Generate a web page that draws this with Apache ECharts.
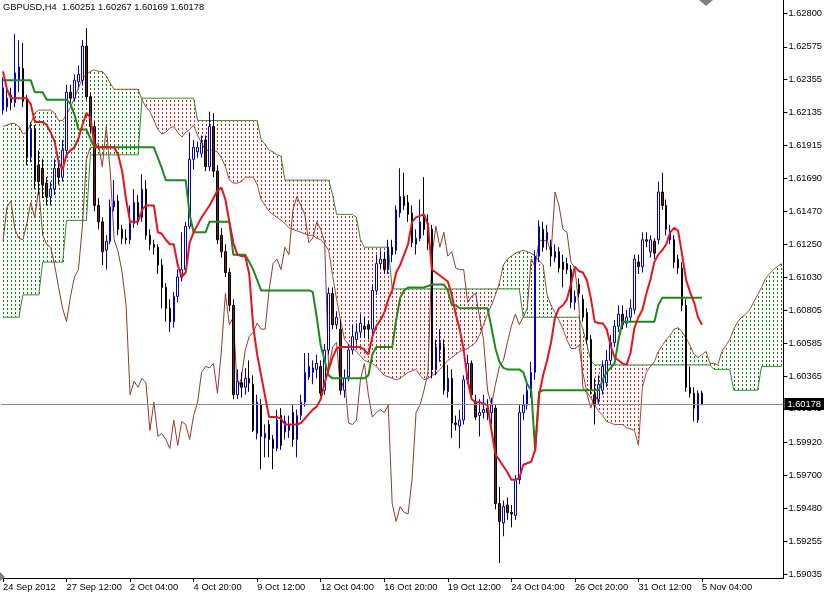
<!DOCTYPE html>
<html><head><meta charset="utf-8">
<script src="https://cdn.jsdelivr.net/npm/echarts@6/dist/echarts.min.js"></script>
<style>html,body{margin:0;padding:0;background:#fff}#c{width:825px;height:595px}</style>
</head><body><div id="c"></div>
<script>
const symbolName = 'GBPUSD,H4';
const tickLabels = ['24 Sep 2012','27 Sep 12:00','2 Oct 04:00','4 Oct 20:00','9 Oct 12:00','12 Oct 04:00','16 Oct 20:00','19 Oct 12:00','24 Oct 04:00','26 Oct 20:00','31 Oct 12:00','5 Nov 04:00'];
const priceTicks = [1.62800,1.62575,1.62355,1.62135,1.61915,1.61690,1.61470,1.61250,1.61030,1.60805,1.60585,1.60365,1.60145,1.59920,1.59700,1.59480,1.59255,1.59035];
const lastPrice = 1.60178;
const chikouShift = 26;

const opens = [
1.6215,1.6217,1.6225,1.6220,1.6235,1.6243,1.6222,1.6184,1.6202,1.6178,
1.6176,1.6166,1.6157,1.6162,1.6176,1.6170,1.6188,1.6227,1.6223,1.6234,
1.6235,1.6258,1.6224,1.6204,1.6151,1.6140,1.6121,1.6127,1.6150,1.6154,
1.6135,1.6129,1.6128,1.6139,1.6153,1.6143,1.6162,1.6131,1.6125,1.6123,
1.6111,1.6096,1.6082,1.6073,1.6090,1.6103,1.6108,1.6137,1.6182,1.6187,
1.6186,1.6195,1.6177,1.6204,1.6174,1.6131,1.6120,1.6106,1.6084,1.6024,
1.6032,1.6029,1.6035,1.6031,1.5998,1.6017,1.5995,1.6004,1.5994,1.5988,
1.6010,1.5999,1.6000,1.6012,1.5994,1.6010,1.6019,1.6036,1.6039,1.6041,
1.6043,1.6027,1.6054,1.6092,1.6071,1.6068,1.6027,1.6036,1.6054,1.6061,
1.6066,1.6070,1.6071,1.6068,1.6094,1.6112,1.6115,1.6108,1.6123,1.6121,
1.6146,1.6157,1.6153,1.6146,1.6125,1.6129,1.6144,1.6139,1.6135,1.6041,
1.6054,1.6056,1.6026,1.6035,1.6005,1.6003,1.6007,1.6034,1.6045,1.6019,
1.6010,1.6012,1.6015,1.6012,1.6015,1.5951,1.5938,1.5950,1.5945,1.5943,
1.5967,1.6012,1.6017,1.6027,1.6039,1.6117,1.6135,1.6128,1.6123,1.6116,
1.6120,1.6113,1.6112,1.6108,1.6086,1.6098,1.6088,1.6079,1.6061,1.6024,
1.6021,1.6027,1.6032,1.6047,1.6059,1.6070,1.6078,1.6072,1.6076,1.6081,
1.6113,1.6110,1.6128,1.6120,1.6127,1.6128,1.6160,1.6151,1.6128,1.6128,
1.6115,1.6109,1.6084,1.6029,1.6025,1.6007,1.60251];
const highs = [
1.6237,1.6232,1.6230,1.6266,1.6262,1.6260,1.6225,1.6207,1.6205,1.6188,
1.6182,1.6170,1.6167,1.6182,1.6180,1.6195,1.6232,1.6232,1.6239,1.6245,
1.6262,1.6270,1.6227,1.6207,1.6156,1.6143,1.6131,1.6155,1.6168,1.6158,
1.6138,1.6135,1.6151,1.6162,1.6158,1.6172,1.6168,1.6135,1.6128,1.6125,
1.6115,1.6099,1.6088,1.6093,1.6108,1.6133,1.6140,1.6200,1.6195,1.6194,
1.6198,1.6198,1.6214,1.6213,1.6178,1.6136,1.6125,1.6109,1.6088,1.6041,
1.6039,1.6042,1.6047,1.6037,1.6024,1.6021,1.6004,1.6007,1.5997,1.6014,
1.6015,1.6010,1.6010,1.6017,1.6014,1.6024,1.6052,1.6052,1.6047,1.6051,
1.6047,1.6058,1.6096,1.6096,1.6080,1.6074,1.6041,1.6058,1.6071,1.6072,
1.6078,1.6076,1.6074,1.6098,1.6118,1.6121,1.6120,1.6128,1.6128,1.6151,
1.6176,1.6173,1.6158,1.6151,1.6135,1.6155,1.6170,1.6145,1.6138,1.6061,
1.6068,1.6061,1.6044,1.6041,1.6010,1.6014,1.6037,1.6051,1.6047,1.6024,
1.6021,1.6024,1.6021,1.6022,1.6017,1.5962,1.5953,1.5955,1.5950,1.5970,
1.6017,1.6024,1.6034,1.6046,1.6121,1.6141,1.6140,1.6138,1.6128,1.6125,
1.6123,1.6118,1.6116,1.6111,1.6094,1.6102,1.6091,1.6082,1.6064,1.6035,
1.6037,1.6047,1.6054,1.6064,1.6074,1.6084,1.6084,1.6081,1.6088,1.6118,
1.6118,1.6133,1.6133,1.6131,1.6129,1.6167,1.6173,1.6155,1.6138,1.6131,
1.6118,1.6113,1.6088,1.6043,1.6029,1.6027,1.60267];
const lows = [
1.6212,1.6214,1.6215,1.6217,1.6227,1.6217,1.6178,1.6180,1.6162,1.6158,
1.6156,1.6151,1.6151,1.6158,1.6165,1.6167,1.6185,1.6219,1.6221,1.6230,
1.6232,1.6222,1.6200,1.6147,1.6135,1.6111,1.6108,1.6125,1.6147,1.6131,
1.6125,1.6125,1.6125,1.6136,1.6138,1.6140,1.6128,1.6121,1.6118,1.6105,
1.6082,1.6073,1.6066,1.6069,1.6086,1.6100,1.6105,1.6135,1.6175,1.6183,
1.6183,1.6174,1.6174,1.6170,1.6125,1.6116,1.6103,1.6080,1.6021,1.6021,
1.6022,1.6024,1.6026,1.5999,1.5994,1.5974,1.5982,1.5982,1.5974,1.5986,
1.5987,1.5994,1.5995,1.5989,1.5982,1.6007,1.6016,1.6034,1.6031,1.6035,
1.6023,1.6024,1.6051,1.6068,1.6068,1.6024,1.6022,1.6033,1.6051,1.6058,
1.6062,1.6062,1.6061,1.6064,1.6091,1.6109,1.6105,1.6105,1.6113,1.6118,
1.6143,1.6148,1.6140,1.6123,1.6118,1.6127,1.6131,1.6121,1.6035,1.6037,
1.6046,1.6024,1.6022,1.5995,1.6000,1.5988,1.6004,1.6031,1.6021,1.6007,
1.5996,1.6008,1.6007,1.6004,1.5947,1.5911,1.5929,1.5940,1.5935,1.5940,
1.5964,1.6007,1.6014,1.6022,1.6034,1.6113,1.6120,1.6121,1.6110,1.6113,
1.6106,1.6096,1.6105,1.6082,1.6081,1.6089,1.6073,1.6058,1.6024,1.6004,
1.6017,1.6024,1.6029,1.6044,1.6056,1.6066,1.6068,1.6069,1.6073,1.6078,
1.6105,1.6106,1.6123,1.6116,1.6115,1.6125,1.6148,1.6131,1.6125,1.6109,
1.6105,1.6080,1.6026,1.6022,1.6006,1.6005,1.60169];
const closes = [
1.6230,1.6223,1.6220,1.6240,1.6244,1.6221,1.6183,1.6202,1.6168,1.6167,
1.6165,1.6157,1.6162,1.6176,1.6170,1.6188,1.6227,1.6223,1.6235,1.6239,
1.6258,1.6224,1.6204,1.6151,1.6140,1.6120,1.6127,1.6150,1.6154,1.6135,
1.6129,1.6128,1.6139,1.6153,1.6143,1.6162,1.6131,1.6125,1.6123,1.6111,
1.6096,1.6082,1.6073,1.6090,1.6103,1.6108,1.6137,1.6182,1.6190,1.6190,
1.6193,1.6177,1.6204,1.6174,1.6128,1.6120,1.6106,1.6084,1.6024,1.6033,
1.6029,1.6035,1.6032,1.6000,1.6019,1.5996,1.5998,1.5994,1.5988,1.6007,
1.5990,1.6006,1.6004,1.5994,1.6010,1.6019,1.6039,1.6043,1.6042,1.6045,
1.6025,1.6054,1.6092,1.6071,1.6076,1.6027,1.6035,1.6054,1.6063,1.6066,
1.6072,1.6068,1.6068,1.6094,1.6112,1.6115,1.6108,1.6123,1.6118,1.6148,
1.6157,1.6151,1.6145,1.6126,1.6129,1.6140,1.6135,1.6126,1.6041,1.6056,
1.6059,1.6027,1.6035,1.6005,1.6004,1.6007,1.6034,1.6045,1.6024,1.6009,
1.6012,1.6014,1.6012,1.6017,1.5951,1.5939,1.5949,1.5945,1.5944,1.5967,
1.6012,1.6017,1.6027,1.6039,1.6117,1.6137,1.6123,1.6133,1.6117,1.6120,
1.6109,1.6108,1.6108,1.6086,1.6090,1.6092,1.6076,1.6061,1.6027,1.6017,
1.6031,1.6043,1.6047,1.6059,1.6070,1.6078,1.6071,1.6076,1.6082,1.6115,
1.6110,1.6128,1.6127,1.6128,1.6119,1.6160,1.6151,1.6135,1.6133,1.6113,
1.6109,1.6084,1.6029,1.6025,1.6015,1.6025,1.60178];
const tenkan = [
1.6241,1.6229,1.6223,1.6223,1.6223,1.6223,1.6223,1.6219,1.6207,1.6207,
1.6207,1.6205,1.6200,1.6194,1.6180,1.6175,1.6185,1.6188,1.6190,1.6196,
1.6205,1.6213,1.6210,1.6192,1.6190,1.6190,1.6190,1.6190,1.6190,1.6185,
1.6174,1.6155,1.6140,1.6140,1.6140,1.6148,1.6151,1.6151,1.6151,1.6133,
1.6132,1.6128,1.6125,1.6125,1.6111,1.6103,1.6106,1.6126,1.6133,1.6138,
1.6143,1.6147,1.6151,1.6156,1.6161,1.6163,1.6155,1.6140,1.6126,1.6118,
1.6117,1.6117,1.6105,1.6070,1.6051,1.6037,1.6023,1.6009,1.6009,1.6009,
1.6008,1.6004,1.6004,1.6004,1.6004,1.6005,1.6008,1.6011,1.6014,1.6016,
1.6021,1.6032,1.6041,1.6049,1.6055,1.6056,1.6056,1.6056,1.6056,1.6056,
1.6056,1.6054,1.6051,1.6063,1.6070,1.6074,1.6079,1.6088,1.6094,1.6106,
1.6111,1.6118,1.6125,1.6140,1.6143,1.6144,1.6145,1.6138,1.6108,1.6106,
1.6104,1.6102,1.6100,1.6091,1.6078,1.6068,1.6054,1.6034,1.6021,1.6019,
1.6019,1.6018,1.6017,1.6000,1.5984,1.5980,1.5976,1.5972,1.5967,1.5967,
1.5968,1.5977,1.5978,1.5979,1.5987,1.6024,1.6037,1.6047,1.6059,1.6076,
1.6082,1.6084,1.6088,1.6098,1.6110,1.6107,1.6106,1.6101,1.6089,1.6073,
1.6072,1.6072,1.6068,1.6057,1.6049,1.6047,1.6045,1.6044,1.6052,1.6069,
1.6076,1.6081,1.6092,1.6101,1.6113,1.6118,1.6121,1.6125,1.6133,1.6136,
1.6134,1.6118,1.6101,1.6093,1.6086,1.6076,1.6071];
const kijun = [
1.6235,1.6235,1.6235,1.6235,1.6235,1.6235,1.6235,1.6235,1.6227,1.6227,
1.6227,1.6222,1.6222,1.6222,1.6222,1.6222,1.6222,1.6219,1.6212,1.6202,
1.6202,1.6202,1.6196,1.6190,1.6190,1.6190,1.6190,1.6190,1.6190,1.6190,
1.6190,1.6190,1.6190,1.6190,1.6190,1.6190,1.6190,1.6190,1.6190,1.6183,
1.6176,1.6168,1.6168,1.6168,1.6168,1.6168,1.6168,1.6145,1.6133,1.6133,
1.6133,1.6133,1.6140,1.6140,1.6140,1.6140,1.6140,1.6140,1.6118,1.6118,
1.6118,1.6118,1.6113,1.6108,1.6101,1.6094,1.6094,1.6094,1.6094,1.6094,
1.6094,1.6094,1.6094,1.6094,1.6094,1.6094,1.6094,1.6094,1.6093,1.6076,
1.6057,1.6047,1.6037,1.6035,1.6035,1.6035,1.6035,1.6035,1.6035,1.6035,
1.6035,1.6035,1.6037,1.6051,1.6056,1.6056,1.6056,1.6056,1.6056,1.6074,
1.6089,1.6094,1.6096,1.6096,1.6096,1.6096,1.6096,1.6097,1.6098,1.6098,
1.6098,1.6098,1.6094,1.6084,1.6084,1.6082,1.6082,1.6082,1.6082,1.6082,
1.6082,1.6082,1.6082,1.6069,1.6055,1.6046,1.6042,1.6041,1.6041,1.6041,
1.6041,1.6039,1.6031,1.6027,1.5987,1.6026,1.6027,1.6027,1.6027,1.6027,
1.6027,1.6027,1.6027,1.6027,1.6027,1.6027,1.6027,1.6027,1.6027,1.6027,
1.6027,1.6034,1.6039,1.6042,1.6045,1.6061,1.6073,1.6073,1.6073,1.6073,
1.6073,1.6073,1.6073,1.6073,1.6073,1.6084,1.6089,1.6089,1.6089,1.6089,
1.6089,1.6089,1.6089,1.6089,1.6089,1.6089,1.6089];
const senkouA = [
1.6204,1.6205,1.6206,1.6206,1.6204,1.6199,1.6200,1.6206,1.6213,1.6215,
1.6215,1.6215,1.6215,1.6213,1.6208,1.6208,1.6212,1.6217,1.6223,1.6230,
1.6236,1.6239,1.6241,1.6242,1.6241,1.6241,1.6238,1.6233,1.6229,1.6229,
1.6229,1.6229,1.6229,1.6229,1.6229,1.6222,1.6217,1.6214,1.6208,1.6202,
1.6199,1.6200,1.6203,1.6204,1.6200,1.6197,1.6200,1.6202,1.6205,1.6198,
1.6193,1.6188,1.6188,1.6188,1.6187,1.6183,1.6177,1.6168,1.6166,1.6166,
1.6167,1.6170,1.6170,1.6170,1.6165,1.6155,1.6151,1.6147,1.6145,1.6143,
1.6141,1.6139,1.6136,1.6135,1.6134,1.6133,1.6132,1.6131,1.6131,1.6129,
1.6128,1.6125,1.6121,1.6104,1.6088,1.6074,1.6061,1.6058,1.6055,1.6053,
1.6050,1.6047,1.6046,1.6045,1.6043,1.6040,1.6037,1.6036,1.6035,1.6034,
1.6035,1.6037,1.6039,1.6040,1.6041,1.6037,1.6034,1.6035,1.6037,1.6038,
1.6041,1.6044,1.6047,1.6049,1.6051,1.6053,1.6054,1.6055,1.6057,1.6059,
1.6064,1.6071,1.6078,1.6084,1.6091,1.6099,1.6111,1.6115,1.6117,1.6119,
1.6120,1.6121,1.6120,1.6119,1.6117,1.6114,1.6111,1.6091,1.6084,1.6079,
1.6074,1.6068,1.6061,1.6055,1.6055,1.6057,1.6039,1.6026,1.6022,1.6017,
1.6013,1.6010,1.6006,1.6005,1.6004,1.6004,1.6004,1.6002,1.6001,1.6000,
1.5990,1.6029,1.6039,1.6043,1.6046,1.6053,1.6057,1.6061,1.6064,1.6068,
1.6069,1.6066,1.6062,1.6057,1.6051,1.6049,1.6051,1.6053,1.6045,1.6045,
1.6044,1.6053,1.6057,1.6061,1.6068,1.6073,1.6076,1.6078,1.6081,1.6086,
1.6091,1.6096,1.6102,1.6105,1.6108,1.6110,1.6112];
const senkouB = [
1.6076,1.6076,1.6076,1.6076,1.6076,1.6091,1.6091,1.6091,1.6091,1.6091,
1.6113,1.6113,1.6113,1.6113,1.6113,1.6113,1.6141,1.6141,1.6141,1.6141,
1.6141,1.6141,1.6185,1.6185,1.6185,1.6185,1.6185,1.6185,1.6185,1.6185,
1.6185,1.6185,1.6185,1.6185,1.6185,1.6223,1.6223,1.6223,1.6223,1.6223,
1.6223,1.6223,1.6223,1.6223,1.6223,1.6223,1.6223,1.6223,1.6223,1.6208,
1.6208,1.6208,1.6208,1.6208,1.6208,1.6208,1.6208,1.6208,1.6208,1.6208,
1.6208,1.6208,1.6208,1.6208,1.6208,1.6195,1.6192,1.6188,1.6187,1.6185,
1.6184,1.6168,1.6168,1.6168,1.6168,1.6168,1.6168,1.6168,1.6168,1.6168,
1.6168,1.6168,1.6168,1.6158,1.6145,1.6145,1.6145,1.6145,1.6145,1.6143,
1.6128,1.6123,1.6123,1.6123,1.6123,1.6123,1.6123,1.6123,1.6095,1.6095,
1.6095,1.6095,1.6095,1.6095,1.6095,1.6095,1.6095,1.6095,1.6095,1.6095,
1.6095,1.6095,1.6095,1.6095,1.6095,1.6095,1.6095,1.6095,1.6095,1.6095,
1.6095,1.6095,1.6095,1.6095,1.6095,1.6095,1.6095,1.6095,1.6095,1.6095,
1.6095,1.6076,1.6076,1.6076,1.6076,1.6076,1.6076,1.6076,1.6076,1.6076,
1.6076,1.6076,1.6076,1.6076,1.6076,1.6076,1.6068,1.6058,1.6047,1.6044,
1.6044,1.6044,1.6044,1.6044,1.6044,1.6044,1.6044,1.6044,1.6044,1.6044,
1.6044,1.6044,1.6044,1.6044,1.6044,1.6044,1.6044,1.6044,1.6044,1.6044,
1.6044,1.6044,1.6044,1.6044,1.6044,1.6044,1.6044,1.6044,1.6044,1.6041,
1.6041,1.6041,1.6041,1.6041,1.6027,1.6027,1.6027,1.6027,1.6027,1.6027,
1.6027,1.6043,1.6043,1.6043,1.6043,1.6043,1.6043];

// ---- build library tables ----
const nCats = senkouA.length;
const cats = Array.from({length: nCats}, (_, i) => String(i));
const candleData = opens.map((o, i) => [o, closes[i], lows[i], highs[i]]);
const chikou = closes.slice(chikouShift);
const cloudUp = [], cloudDn = [];
senkouA.forEach((a, i) => { (a >= senkouB[i] ? cloudUp : cloudDn).push([i, a, senkouB[i]]); });
const last = opens.length - 1;
const titleText = symbolName + '  ' + opens[last].toFixed(5) + ' ' + highs[last].toFixed(5) + ' ' + lows[last].toFixed(5) + ' ' + closes[last].toFixed(5);

const FONT = 'Liberation Sans';
const FS = 9.3;
const HATCH_UP = '#0a7d0a';
const HATCH_DN = '#d81c1c';

function hatchSeries(name, data, color) {
  return {
    name: name, type: 'custom', data: data, clip: true, silent: true, z: 1,
    encode: {x: 0, y: [1, 2]},
    renderItem: function (params, api) {
      const i = api.value(0);
      const pa = api.coord([i, api.value(1)]), pb = api.coord([i, api.value(2)]);
      const x = Math.round(pa[0]) + 0.5;
      const yTop = Math.round(Math.min(pa[1], pb[1]));
      const yBot = Math.round(Math.max(pa[1], pb[1]));
      return {type: 'line', shape: {x1: x, y1: yTop, x2: x, y2: yBot},
        style: {stroke: color, lineWidth: 1, lineDash: [2, 2], lineDashOffset: yTop % 4}};
    }
  };
}

const chart = echarts.init(document.getElementById('c'), null, {renderer: 'canvas'});
chart.setOption({
  animation: false,
  backgroundColor: '#ffffff',
  title: {text: titleText, left: 3, top: 3, padding: 0, textStyle: {fontSize: FS, fontWeight: 'normal', fontFamily: FONT, color: '#000'}},
  grid: {left: 0, right: 39, top: 0, bottom: 17, containLabel: false},
  xAxis: {
    type: 'category', data: cats, boundaryGap: true,
    axisLine: {show: true, onZero: false, lineStyle: {color: '#000', width: 1}},
    axisTick: {show: true, alignWithLabel: true, length: 4, interval: (i) => i % 16 === 0 && i / 16 < tickLabels.length, lineStyle: {color: '#000'}},
    axisLabel: {
      interval: (i) => i % 16 === 0 && i / 16 < tickLabels.length,
      formatter: (v, i) => tickLabels[Number(v) / 16] || '',
      align: 'left', margin: 5, color: '#000', fontSize: FS, fontFamily: FONT, hideOverlap: false, showMinLabel: true
    },
    splitLine: {show: false}
  },
  yAxis: {
    type: 'value', position: 'right', min: 1.5901, max: 1.62889, scale: true,
    splitLine: {show: false},
    axisLine: {show: true, lineStyle: {color: '#000', width: 1}},
    axisTick: {show: true, inside: false, length: 4, customValues: priceTicks, lineStyle: {color: '#000'}},
    axisLabel: {customValues: priceTicks, formatter: (v) => Number(v).toFixed(5), color: '#000', fontSize: FS, fontFamily: FONT, margin: 5}
  },
  graphic: [
    {type: 'polygon', silent: true, z: 100, shape: {points: [[699, 0], [706, 6], [713, 0]]}, style: {fill: '#7f7f7f'}},
    {type: 'polygon', silent: true, z: 100, shape: {points: [[0, 572], [5, 577], [0, 581]]}, style: {fill: '#7f7f7f'}}
  ],
  series: [
    hatchSeries('cloud up', cloudUp, HATCH_UP),
    hatchSeries('cloud down', cloudDn, HATCH_DN),
    {name: 'Senkou A', type: 'line', data: senkouA, symbol: 'none', z: 2, silent: true, lineStyle: {color: '#9c4a35', width: 1}},
    {name: 'Senkou B', type: 'line', data: senkouB, symbol: 'none', z: 2, silent: true, lineStyle: {color: '#2e8a2e', width: 1}},
    {name: 'Chikou', type: 'line', data: chikou, symbol: 'none', z: 3, silent: true, lineStyle: {color: '#8e3b32', width: 1}},
    {
      name: 'GBPUSD', type: 'candlestick', data: candleData, barWidth: 2, z: 4, silent: true,
      itemStyle: {color: '#ffffff', color0: '#6e1c1c', borderColor: '#0000c0', borderColor0: '#000000', borderWidth: 1}
    },
    {name: 'Kijun', type: 'line', data: kijun, symbol: 'none', z: 5, silent: true, lineStyle: {color: '#1a8a1a', width: 2}},
    {
      name: 'Tenkan', type: 'line', data: tenkan, symbol: 'none', z: 6, silent: true, lineStyle: {color: '#e3141c', width: 2},
      markLine: {
        symbol: ['none', 'none'], silent: true, animation: false, precision: 5,
        data: [{yAxis: lastPrice}],
        lineStyle: {color: '#8c8c8c', width: 1, type: 'solid'},
        label: {show: true, position: 'end', distance: 1, formatter: () => lastPrice.toFixed(5),
          backgroundColor: '#000', color: '#fff', padding: [2, 3, 1, 3], fontSize: FS, fontFamily: FONT}
      }
    }
  ]
});
</script>
</body></html>
